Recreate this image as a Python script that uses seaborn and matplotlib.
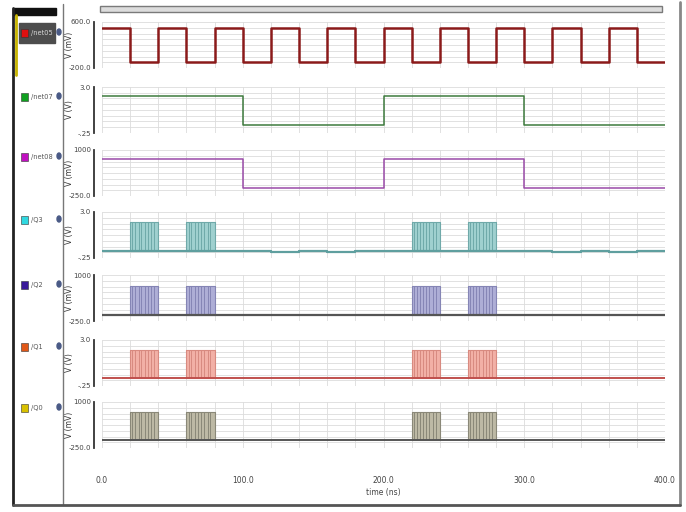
import numpy as np
import matplotlib
matplotlib.use('Agg')
import matplotlib.pyplot as plt
import seaborn as sns
from matplotlib.patches import Rectangle, Ellipse
from matplotlib.lines import Line2D

sns.set_theme(style='white')
plt.rcParams['font.family'] = ['DejaVu Sans']

# ---- data (time in ns) ----
names = ['/net05', '/net07', '/net08', '/Q3', '/Q2', '/Q1', '/Q0']
units = ['V (mV)', 'V (V)', 'V (mV)', 'V (V)', 'V (mV)', 'V (V)', 'V (mV)']
y_top = [600.0, 3.0, 1000, 3.0, 1000, 3.0, 1000]
y_bot = [-200.0, -0.25, -250.0, -0.25, -250.0, -0.25, -250.0]
top_labels = ['600.0', '3.0', '1000', '3.0', '1000', '3.0', '1000']
bot_labels = ['-200.0', '-.25', '-250.0', '-.25', '-250.0', '-.25', '-250.0']

# clock /net05 (mV)
net05_t = [0, 20, 40, 60, 80, 100, 120, 140, 160, 180, 200, 220, 240, 260, 280,
           300, 320, 340, 360, 380, 400]
net05_v = [500, -100, 500, -100, 500, -100, 500, -100, 500, -100, 500, -100, 500,
           -100, 500, -100, 500, -100, 500, -100, -100]

# /net07 (V)
net07_t = [0, 100, 200, 300, 400]
net07_v = [2.35, 0.3, 2.35, 0.3, 0.3]

# /net08 (mV)
net08_t = [0, 100, 200, 300, 400]
net08_v = [750, -20, 750, -20, -20]

# baselines of the counter outputs
q3_t = [0, 120, 140, 160, 180, 320, 340, 360, 380, 400]
q3_v = [0.25, 0.15, 0.25, 0.15, 0.25, 0.15, 0.25, 0.15, 0.25, 0.25]
q2_t = [0, 400]
q2_v = [-90, -90]
q1_t = [0, 400]
q1_v = [0.32, 0.32]
q0_t = [0, 400]
q0_v = [-30, -30]

# bursts of fast toggling (start, end) and burst high levels
burst_start = [20, 60, 220, 260]
burst_end = [40, 80, 240, 280]
burst_high = [None, None, None, 2.3, 700, 2.3, 730]
toggle_offsets = [1.5, 3.5, 6.0, 8.0, 10.5, 12.5, 15.0, 17.0]

series_t = [net05_t, net07_t, net08_t, q3_t, q2_t, q1_t, q0_t]
series_v = [net05_v, net07_v, net08_v, q3_v, q2_v, q1_v, q0_v]

time_ticks = [0, 100, 200, 300, 400]
time_labels = ['0.0', '100.0', '200.0', '300.0', '400.0']

# ---- styling ----
line_colors = ['#8b1a1a', '#3d7a3d', '#9a4aa8', '#5f9f9f', '#555555', '#c0504d', '#555555']
fill_colors = [None, None, None, '#9fd0cf', '#aeaed6', '#f2b0a6', '#bdb9a5']
tog_colors = [None, None, None, '#6fa9a9', '#8585b5', '#d88a80', '#8a8878']
square_colors = ['#e01010', '#10a020', '#c010c0', '#30d8e0', '#3a1a9a', '#e05818', '#d8c000']
line_widths = [1.8, 1.1, 1.1, 1.6, 1.6, 1.4, 1.4]

W, H = 686, 512
fig = plt.figure(figsize=(W / 100, H / 100), dpi=100)


def rect(x0, y0, x1, y1):
    return [x0 / W, 1 - y1 / H, (x1 - x0) / W, (y1 - y0) / H]


panel_tops = [22, 87, 150, 212, 275, 340, 402]
panel_h = 46
legend_y = [33, 97, 157, 220, 285, 347, 408]

for i in range(7):
    top = panel_tops[i]
    ax = fig.add_axes(rect(102, top, 665, top + panel_h))
    lo, hi = y_bot[i], y_top[i]
    ax.set_xlim(0, 400)
    ax.set_ylim(lo, hi)

    # grid
    ax.set_xticks(np.arange(0, 401, 20))
    ax.set_xticklabels([])
    ax.tick_params(axis='x', length=0)
    ax.set_yticks([lo, hi], [bot_labels[i], top_labels[i]])
    ax.set_yticks(np.linspace(lo, hi, 9), minor=True)
    ax.grid(True, which='both', color='#dcdcdc', lw=0.6)
    ax.set_axisbelow(True)
    ax.tick_params(axis='y', which='major', direction='in', length=3, width=0.8,
                   color='#333', pad=2, labelsize=5, labelcolor='#444')
    ax.tick_params(axis='y', which='minor', direction='in', length=2, width=0.6,
                   color='#333')
    for s in ['top', 'right', 'bottom']:
        ax.spines[s].set_visible(False)
    ax.spines['left'].set_position(('outward', 6))
    ax.spines['left'].set_color('#333')
    ax.spines['left'].set_linewidth(1.3)
    ax.set_ylabel(units[i], fontsize=5.5, color='#333')
    ax.yaxis.set_label_coords(-0.05, 0.5)

    # bursts of fast toggling
    if burst_high[i] is not None:
        base = series_v[i][0]
        for s, e in zip(burst_start, burst_end):
            ax.fill_between([s, e], [base, base], [burst_high[i], burst_high[i]],
                            color=fill_colors[i], lw=0.8, edgecolor=tog_colors[i])
            ax.vlines([s + o for o in toggle_offsets], base, burst_high[i],
                      color=tog_colors[i], lw=0.7)

    sns.lineplot(x=series_t[i], y=series_v[i], ax=ax, color=line_colors[i],
                 lw=line_widths[i], drawstyle='steps-post', legend=False, sort=False)
    ax.set_xlabel('')

    # legend entry on the left
    ly = legend_y[i]
    if i == 0:
        fig.add_artist(Rectangle((19 / W, 1 - (ly + 10) / H), 36 / W, 20 / H,
                                 transform=fig.transFigure, color='#4d4d4d'))
        tcol = '#d8d8d8'
    else:
        tcol = '#555'
    fig.add_artist(Rectangle((21 / W, 1 - (ly + 4) / H), 7 / W, 8 / H,
                             transform=fig.transFigure, facecolor=square_colors[i],
                             edgecolor='#333', lw=0.4))
    fig.text(31 / W, 1 - ly / H, names[i], fontsize=4.8, color=tcol, va='center')
    fig.add_artist(Ellipse((59 / W, 1 - (ly - 1) / H), 4 / W, 6 / H,
                           transform=fig.transFigure, color='#4a5a86'))

# time axis
axt = fig.add_axes(rect(102, 452, 665, 462))
axt.set_xlim(0, 400)
axt.set_ylim(0, 1)
for s in axt.spines.values():
    s.set_visible(False)
axt.set_yticks([])
axt.set_xticks(time_ticks, time_labels)
axt.set_xticks(np.arange(0, 401, 10), minor=True)
axt.tick_params(axis='x', which='major', direction='in', length=6, width=0.8,
                color='#555', pad=10, labelsize=5.5, labelcolor='#444')
axt.tick_params(axis='x', which='minor', direction='in', length=3, width=0.6,
                color='#777')
axt.set_xlabel('time (ns)', fontsize=5.5, color='#444', labelpad=2)

# window frame of the viewer
fig.add_artist(Line2D([13 / W, 13 / W], [1 - 505 / H, 1 - 8 / H], color='#222', lw=2))
fig.add_artist(Line2D([63 / W, 63 / W], [1 - 505 / H, 1 - 4 / H], color='#777', lw=1))
fig.add_artist(Line2D([680 / W, 680 / W], [1 - 505 / H, 1 - 2 / H], color='#888', lw=2))
fig.add_artist(Line2D([13 / W, 680 / W], [1 - 505 / H, 1 - 505 / H], color='#555', lw=2))
fig.add_artist(Line2D([16 / W, 16 / W], [1 - 75 / H, 1 - 15 / H], color='#c8b400', lw=2))
fig.add_artist(Rectangle((13 / W, 1 - 15 / H), 43 / W, 7 / H,
                         transform=fig.transFigure, color='#111'))
fig.add_artist(Rectangle((100 / W, 1 - 12 / H), 562 / W, 6 / H,
                         transform=fig.transFigure, facecolor='#dcdcdc',
                         edgecolor='#7a7a7a', lw=1))

fig.savefig('out.png', dpi=100)
